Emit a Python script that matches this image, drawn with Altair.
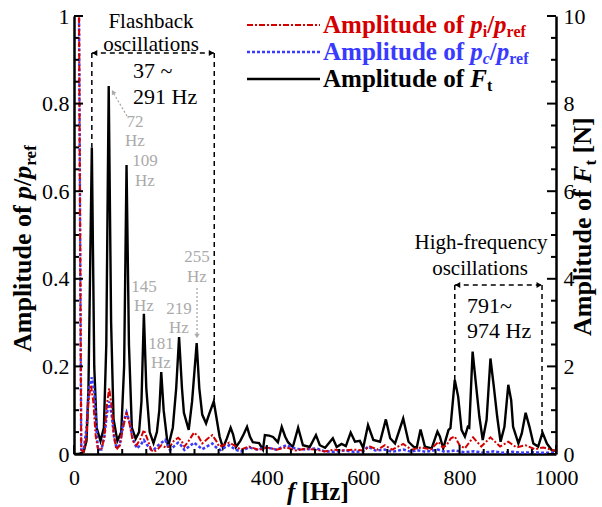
import altair as alt
import pandas as pd

# ---------------- data ----------------
ft_freq = [0, 10, 20, 26, 30, 37, 42, 47, 55, 62, 67, 72, 77, 82, 90, 98, 104, 109, 114, 120,
           128, 135, 140, 145, 150, 157, 165, 172, 177, 181, 186, 195, 205, 212, 218, 224, 228,
           238, 245, 254.5, 260, 266, 274, 280, 290, 296, 302, 309, 317, 325, 330, 336, 345, 352,
           359, 365, 371, 384, 392, 396, 405, 413, 423, 431, 438, 444, 454, 465, 475, 489, 502,
           510, 521, 537, 545, 555, 564, 574, 583, 593, 600, 610, 621, 635, 647, 656, 666, 683,
           694, 704, 711, 719, 728, 742, 754, 759, 766, 777, 781, 790, 797, 804, 811, 817, 820,
           827, 833, 841, 848, 856, 864, 871, 878, 885, 893, 901, 907, 911, 922, 929, 937, 945,
           953, 963, 972, 981, 991, 1000]
ft_amp = [0.0, 0.0, 0.05, 0.3, 1.5, 7.0, 2.0, 0.6, 0.3, 0.6, 2.5, 8.4, 3.0, 0.8, 0.3, 0.5, 2.0, 6.6, 2.5, 0.6,
          0.35, 0.5, 1.2, 3.2, 1.5, 0.5, 0.25, 0.5, 1.0, 1.87, 1.0, 0.15, 0.6, 1.5, 2.67, 1.5, 0.94,
          0.55, 1.2, 2.53, 1.5, 0.9, 0.7, 0.9, 1.2, 0.8, 0.4, 0.14, 0.35, 0.6, 0.45, 0.16, 0.3, 0.45,
          0.62, 0.4, 0.27, 0.25, 0.1, 0.43, 0.42, 0.39, 0.27, 0.62, 0.4, 0.27, 0.16, 0.6, 0.2, 0.16, 0.43,
          0.2, 0.14, 0.36, 0.16, 0.23, 0.18, 0.49, 0.28, 0.3, 0.14, 0.66, 0.32, 0.28, 0.79, 0.36, 0.24, 0.81,
          0.28, 0.17, 0.14, 0.56, 0.17, 0.13, 0.51, 0.4, 0.13, 0.55, 0.59, 1.69, 1.31, 0.55, 0.4, 0.62, 0.6,
          2.34, 1.69, 0.85, 0.32, 0.78, 2.18, 1.54, 0.85, 0.28, 0.62, 1.58, 1.23, 0.62, 0.24, 0.47, 0.94, 0.62,
          0.24, 0.17, 0.49, 0.24, 0.09, 0.07]

pi_freq = [0, 10, 15, 20, 26, 30, 35, 40, 45, 50, 57, 63, 68, 73, 78, 83, 88, 95, 102, 109, 115, 122,
           130, 138, 145, 152, 160, 165, 173, 181, 190, 199, 207, 216, 223, 229, 238, 249, 258, 266,
           277, 287, 295, 301, 310, 322, 332, 346, 363, 384, 400, 420, 440, 460, 480, 500, 520, 540,
           560, 580, 600, 614, 630, 645, 660, 683, 700, 720, 740, 756, 765, 773, 782, 790, 800, 811,
           828, 845, 864, 884, 901, 918, 937, 956, 974, 995, 1000]
pi_amp = [1.6, 1.1, 0.01, 0.005, 0.04, 0.12, 0.158, 0.12, 0.04, 0.01, 0.01, 0.04, 0.11, 0.15, 0.11, 0.04,
          0.01, 0.02, 0.06, 0.095, 0.07, 0.03, 0.02, 0.035, 0.055, 0.035, 0.01, 0.005, 0.01, 0.02, 0.015,
          0.017, 0.03, 0.037, 0.03, 0.017, 0.03, 0.049, 0.04, 0.024, 0.035, 0.043, 0.03, 0.017, 0.02, 0.026,
          0.02, 0.01, 0.017, 0.009, 0.015, 0.01, 0.015, 0.008, 0.012, 0.01, 0.006, 0.01, 0.008, 0.01, 0.008,
          0.017, 0.01, 0.02, 0.01, 0.023, 0.01, 0.015, 0.01, 0.028, 0.015, 0.02, 0.036, 0.04, 0.02, 0.013,
          0.038, 0.017, 0.038, 0.017, 0.028, 0.015, 0.02, 0.011, 0.015, 0.008, 0.008]

pc_freq = [0, 10, 15, 20, 26, 31, 37, 42, 47, 50, 57, 63, 68, 73, 78, 83, 88, 95, 102, 109, 115, 122,
           130, 138, 145, 152, 160, 165, 175, 189, 195, 199, 208, 216, 222, 229, 240, 249, 258, 266,
           277, 287, 295, 304, 313, 322, 335, 346, 363, 380, 400, 420, 440, 460, 480, 502, 520, 540,
           560, 580, 600, 610, 625, 645, 660, 683, 700, 711, 730, 755, 770, 790, 810, 830, 850, 870,
           890, 910, 930, 950, 970, 1000]
pc_amp = [1.6, 1.1, 0.01, 0.01, 0.06, 0.15, 0.175, 0.14, 0.05, 0.01, 0.01, 0.04, 0.09, 0.12, 0.09, 0.04,
          0.014, 0.02, 0.07, 0.095, 0.075, 0.035, 0.013, 0.02, 0.032, 0.02, 0.01, 0.009, 0.02, 0.032, 0.02,
          0.009, 0.018, 0.026, 0.02, 0.009, 0.018, 0.026, 0.018, 0.011, 0.018, 0.024, 0.015, 0.009, 0.015,
          0.02, 0.01, 0.006, 0.015, 0.01, 0.015, 0.01, 0.02, 0.012, 0.01, 0.013, 0.006, 0.005, 0.008, 0.005,
          0.006, 0.017, 0.008, 0.01, 0.005, 0.01, 0.005, 0.009, 0.005, 0.01, 0.005, 0.008, 0.004, 0.006,
          0.003, 0.006, 0.003, 0.005, 0.003, 0.004, 0.003, 0.003]

x_ticks = [0, 200, 400, 600, 800, 1000]
p_ticks = [0, 0.2, 0.4, 0.6, 0.8, 1]
ft_ticks = [0, 2, 4, 6, 8, 10]
peak_freqs = ["72", "109", "145", "181", "219", "255"]
flash_range = ["37 ~", "291 Hz"]
high_range = ["791~", "974 Hz"]

# ---------------- layout / style ----------------
OX, OY, W, H = 74, 16, 482, 438
SERIF = "Liberation Serif"
RED, BLUE, GRAY = "#d40000", "#3a3aff", "#aaaaaa"

XS = alt.Scale(domain=[0, 1000], nice=False, zero=False)
PS = alt.Scale(domain=[0, 1], nice=False)
FS = alt.Scale(domain=[0, 10], nice=False)

def px_f(sx):
    return (sx - OX) / W * 1000

def px_v(sy):
    return (OY + H - sy) / H

# ---------------- main series ----------------
ft_df = pd.DataFrame({"f": ft_freq, "a": ft_amp})
pi_df = pd.DataFrame({"f": pi_freq, "a": pi_amp})
pc_df = pd.DataFrame({"f": pc_freq, "a": pc_amp})

LBL = "'' + datum.value"
xaxis = alt.Axis(values=x_ticks, ticks=False, grid=False, title=None, labelExpr=LBL,
                 labelFont=SERIF, labelFontSize=22, labelColor="black", labelPadding=13,
                 labelFlush=False, labelOverlap=False, domainColor="black", domainWidth=2.5)
laxis = alt.Axis(orient="left", values=p_ticks, ticks=False, grid=False, title=None, labelExpr=LBL,
                 labelFont=SERIF, labelFontSize=22, labelColor="black", labelPadding=5,
                 labelOverlap=False, labelFlush=False, domainColor="black", domainWidth=2.5)
raxis = alt.Axis(orient="right", values=ft_ticks, ticks=False, grid=False, title=None, labelExpr=LBL,
                 labelFont=SERIF, labelFontSize=22, labelColor="black", labelPadding=7,
                 labelOverlap=False, labelFlush=False, domainColor="black", domainWidth=2.5)

ft_line = alt.Chart(ft_df).mark_line(color="black", strokeWidth=2.4, clip=True).encode(
    x=alt.X("f:Q", scale=XS, axis=xaxis), y=alt.Y("a:Q", scale=FS, axis=raxis))
pc_line = alt.Chart(pc_df).mark_line(color=BLUE, strokeWidth=2.5, strokeDash=[3, 2], clip=True).encode(
    x=alt.X("f:Q", scale=XS), y=alt.Y("a:Q", scale=PS, axis=laxis))
pi_line = alt.Chart(pi_df).mark_line(color=RED, strokeWidth=2, strokeDash=[6, 2, 2, 2], clip=True).encode(
    x=alt.X("f:Q", scale=XS), y=alt.Y("a:Q", scale=PS, axis=None))

# ---------------- inward ticks ----------------
x_minor = [v for v in range(50, 1000, 50) if v % 200 != 0]
p_minor = [round(i * 0.05, 2) for i in range(1, 20) if i % 4 != 0]
ft_minor = [round(i * 0.5, 1) for i in range(1, 20) if i % 4 != 0]

def xticks(vals, ln):
    return alt.Chart(pd.DataFrame({"f": vals})).mark_rule(color="black", strokeWidth=2).encode(
        x=alt.X("f:Q", scale=XS), y=alt.value(H), y2=alt.value(H - ln))

def yticks(vals, scale, x0, ln):
    return alt.Chart(pd.DataFrame({"v": vals})).mark_rule(color="black", strokeWidth=2).encode(
        y=alt.Y("v:Q", scale=scale, axis=None), x=alt.value(x0), x2=alt.value(x0 + ln))

tick_layers = [xticks(x_ticks, 9), xticks(x_minor, 5),
               yticks(p_ticks, PS, 0, 9), yticks(p_minor, PS, 0, 5),
               yticks(ft_ticks, FS, W, -9), yticks(ft_minor, FS, W, -5)]

# ---------------- rich text helper ----------------
TB = {' ': 250, '/': 278, '[': 333, ']': 333, 'A': 722, 'F': 611, 'H': 778, 'N': 722, 'a': 500,
      'c': 444, 'd': 556, 'e': 444, 'f': 333, 'i': 278, 'l': 278, 'm': 833, 'o': 500, 'p': 556,
      'r': 444, 't': 333, 'u': 556, 'z': 444}
TBI = {'p': 500, 'c': 444, 'F': 667, 'f': 333}

def wid(text, italic, size):
    tab = TBI if italic else TB
    return sum(tab.get(ch, 500) for ch in text) * size / 1000.0

def rich(sx, sy, segs, color, angle=0):
    out = []
    pos = 0.0
    for text, italic, size, shift in segs:
        lead = len(text) - len(text.lstrip(" "))
        p = pos + lead * 250 * size / 1000.0
        if angle == 0:
            x, y = sx + p, sy + shift
        else:
            x, y = sx + shift, sy - p
        out.append(alt.Chart(pd.DataFrame({"t": [text.strip()]})).mark_text(
            align="left", baseline="alphabetic", angle=angle, font=SERIF, fontSize=size,
            fontWeight="bold", fontStyle="italic" if italic else "normal", color=color).encode(
            x=alt.value(x - OX), y=alt.value(y - OY), text="t:N"))
        pos += wid(text, italic, size)
    return out

S, SS = 25, 16
title_layers = []
title_layers += rich(31, 352, [("Amplitude of ", False, 26, 0), ("p", True, 26, 0), ("/", False, 26, 0),
                               ("p", True, 26, 0), ("ref", False, 17, 5)], "black", angle=270)
title_layers += rich(591, 336, [("Amplitude of ", False, 26, 0), ("F", True, 26, 0), ("t", False, 17, 5),
                                (" [N]", False, 26, 0)], "black", angle=270)
title_layers += rich(287, 500, [("f", True, S, 0), (" [Hz]", False, S, 0)], "black")

# legend
legend_layers = []
leg = [(25, RED, [6, 2, 2, 2], 2, "i", False), (52, BLUE, [3, 2], 2.5, "c", True), (79, "black", None, 2.4, None, None)]
for ly, col, dash, sw, sub, subit in leg:
    kw = dict(color=col, strokeWidth=sw)
    if dash:
        kw["strokeDash"] = dash
    legend_layers.append(alt.Chart(pd.DataFrame({"k": [0]})).mark_rule(**kw).encode(
        x=alt.value(247 - OX), x2=alt.value(320 - OX), y=alt.value(ly - OY)))
    if sub is not None:
        segs = [("Amplitude of ", False, S, 0), ("p", True, S, 0), (sub, subit, SS, 4),
                ("/", False, S, 0), ("p", True, S, 0), ("ref", False, SS, 4)]
    else:
        segs = [("Amplitude of ", False, S, 0), ("F", True, S, 0), ("t", False, SS, 4)]
    legend_layers += rich(323, ly + 8, segs, col)

# ---------------- annotations ----------------
dash_df = pd.DataFrame({
    "f": [37, 291, 790, 971, 37, 790],
    "v": [px_v(53), px_v(53), px_v(285), px_v(285), px_v(53), px_v(285)],
    "f2": [37, 291, 790, 971, 291, 971],
    "v2": [0.70, 0.12, 0.169, 0.05, px_v(53), px_v(285)],
})
dash_layer = alt.Chart(dash_df).mark_rule(color="black", strokeWidth=1.5, strokeDash=[5, 4]).encode(
    x=alt.X("f:Q", scale=XS), x2="f2:Q", y=alt.Y("v:Q", scale=PS, axis=None), y2="v2:Q")

heads_df = pd.DataFrame({
    "f": [37 + 6, 291 - 6, 790 + 6, 971 - 6],
    "v": [px_v(53), px_v(53), px_v(285), px_v(285)],
    "s": ["triangle-left", "triangle-right", "triangle-left", "triangle-right"],
})
heads_layer = alt.Chart(heads_df).mark_point(filled=True, size=35, color="black", opacity=1).encode(
    x=alt.X("f:Q", scale=XS), y=alt.Y("v:Q", scale=PS, axis=None),
    shape=alt.Shape("s:N", scale=None, legend=None))

big_text = pd.DataFrame({
    "t": ["Flashback", "oscillations", "High-frequency", "oscillations"],
    "f": [px_f(151), px_f(151), px_f(481), px_f(480)],
    "v": [px_v(28), px_v(51), px_v(249), px_v(275)],
})
big_text_layer = alt.Chart(big_text).mark_text(font=SERIF, fontSize=21, color="black",
                                               align="center", baseline="alphabetic").encode(
    x=alt.X("f:Q", scale=XS), y=alt.Y("v:Q", scale=PS, axis=None), text="t:N")

range_text = pd.DataFrame({
    "t": flash_range + high_range,
    "f": [px_f(133), px_f(133), px_f(467), px_f(467)],
    "v": [px_v(78), px_v(104), px_v(313), px_v(338)],
})
range_text_layer = alt.Chart(range_text).mark_text(font=SERIF, fontSize=22, color="black",
                                                   align="left", baseline="alphabetic").encode(
    x=alt.X("f:Q", scale=XS), y=alt.Y("v:Q", scale=PS, axis=None), text="t:N")

gx = [135, 145, 144, 161, 179, 197]
gy = [127, 166, 292, 349, 314, 262]
gy2 = [146, 186, 311, 368, 333, 282]
gray_rows = []
for lab, x, y1, y2 in zip(peak_freqs, gx, gy, gy2):
    gray_rows.append({"t": lab, "f": px_f(x), "v": px_v(y1)})
    gray_rows.append({"t": "Hz", "f": px_f(x), "v": px_v(y2)})
gray_layer = alt.Chart(pd.DataFrame(gray_rows)).mark_text(font=SERIF, fontSize=17, color=GRAY,
                                                          align="center", baseline="alphabetic").encode(
    x=alt.X("f:Q", scale=XS), y=alt.Y("v:Q", scale=PS, axis=None), text="t:N")

garrow_df = pd.DataFrame({
    "f": [px_f(127), px_f(197)], "v": [px_v(116), px_v(288)],
    "f2": [px_f(114), px_f(197)], "v2": [px_v(94), px_v(334)],
})
garrow_layer = alt.Chart(garrow_df).mark_rule(color=GRAY, strokeWidth=1.3, strokeDash=[2, 2]).encode(
    x=alt.X("f:Q", scale=XS), x2="f2:Q", y=alt.Y("v:Q", scale=PS, axis=None), y2="v2:Q")
ghead_df = pd.DataFrame({"f": [px_f(113), px_f(197)], "v": [px_v(92), px_v(336)], "a": [330, 180]})
ghead_layer = alt.Chart(ghead_df).mark_point(filled=True, size=28, color=GRAY, shape="triangle-up",
                                             opacity=1).encode(
    x=alt.X("f:Q", scale=XS), y=alt.Y("v:Q", scale=PS, axis=None), angle=alt.Angle("a:Q", scale=None))

layers = ([ft_line, pc_line, pi_line] + tick_layers +
          [dash_layer, heads_layer, big_text_layer, range_text_layer, gray_layer, garrow_layer, ghead_layer]
          + title_layers + legend_layers)

chart = alt.layer(*layers).resolve_scale(y="independent").properties(
    width=W, height=H,
    autosize=alt.AutoSizeParams(type="none"),
    padding={"left": OX, "top": OY, "right": 602 - OX - W, "bottom": 507 - OY - H},
).configure_view(stroke=None)

chart.save("out.html", embed_options={"renderer": "svg", "actions": False})
